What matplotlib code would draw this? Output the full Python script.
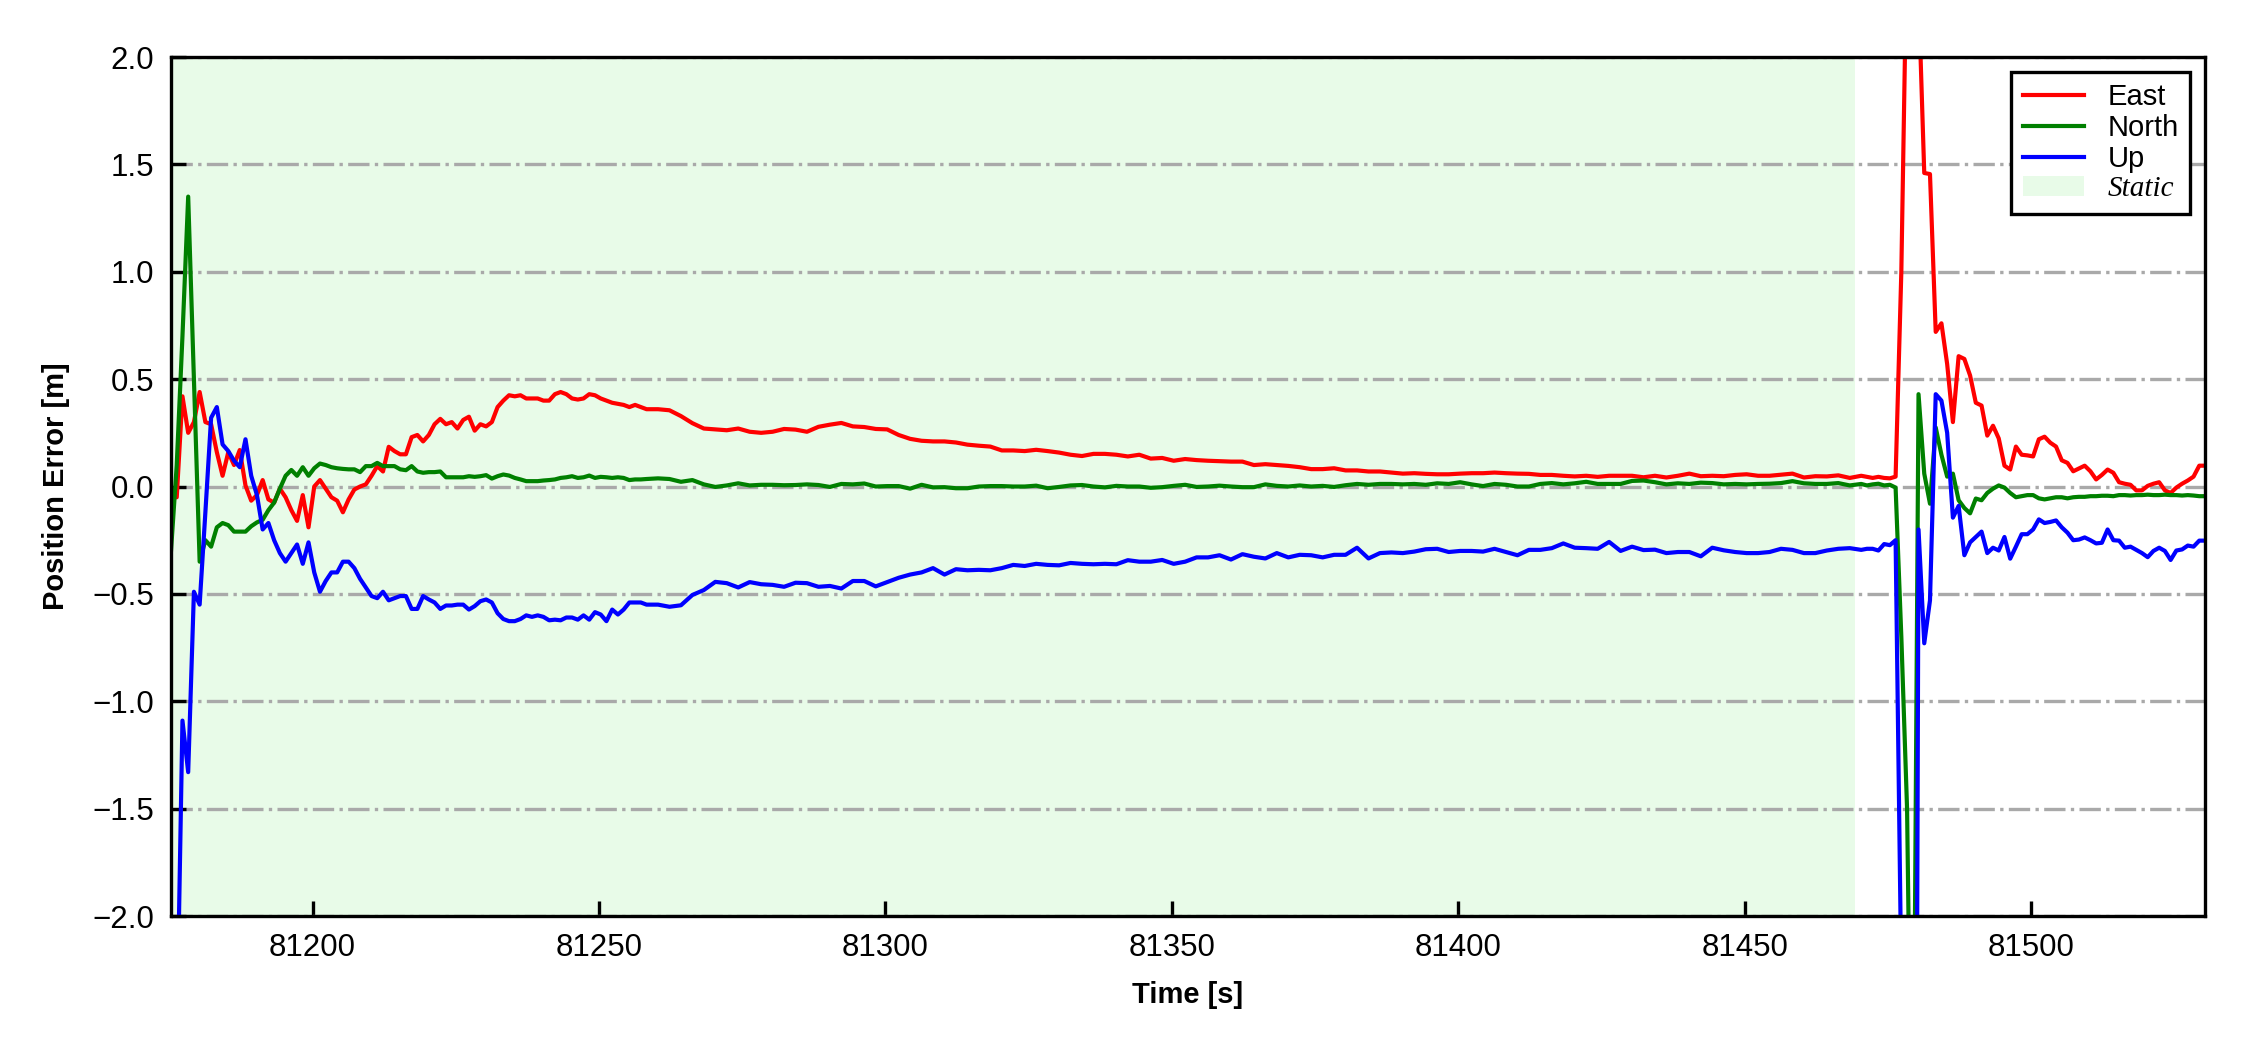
import numpy as np
import matplotlib
matplotlib.use('Agg')
import matplotlib.pyplot as plt
from matplotlib.patches import Patch

plt.rcParams['font.family'] = ['Liberation Sans', 'DejaVu Sans']

# time stamps [s]: 1 s samples at both ends, every 2nd sample in the quiet middle
t0 = 81175.3
t_static_end = 81469.2
idx = np.concatenate([np.arange(0, 84), np.arange(85, 296, 2), np.arange(296, 356)])
time = t0 + idx

# East error [m]
east_a = [-0.05, -0.05, 0.42, 0.25, 0.30, 0.44, 0.30, 0.29, 0.16, 0.05,
          0.16, 0.10, 0.17, 0.005, -0.066, -0.04, 0.03, -0.06, -0.075, -0.01,
          -0.05, -0.11, -0.16, -0.04, -0.19, 0.0, 0.03, -0.01, -0.05, -0.066,
          -0.12, -0.06, -0.014, 0.0, 0.01, 0.05, 0.095, 0.07, 0.185, 0.165,
          0.15, 0.15, 0.23, 0.24, 0.21, 0.24, 0.29, 0.315, 0.29, 0.30,
          0.27, 0.31, 0.325, 0.26, 0.29, 0.28, 0.30, 0.37, 0.40, 0.425,
          0.42, 0.425, 0.41, 0.41, 0.41, 0.40, 0.40, 0.43, 0.44, 0.43,
          0.41, 0.405, 0.41, 0.43, 0.425, 0.41, 0.40, 0.39, 0.385, 0.38,
          0.37, 0.38, 0.37, 0.36]
east_b = [0.36, 0.355, 0.328, 0.295, 0.27, 0.266, 0.262, 0.27, 0.255, 0.25,
          0.255, 0.268, 0.265, 0.255, 0.278, 0.288, 0.296, 0.28, 0.277, 0.268,
          0.266, 0.24, 0.222, 0.213, 0.21,
          0.21, 0.205, 0.195, 0.19, 0.186, 0.168, 0.168, 0.165, 0.171, 0.165,
          0.158, 0.148, 0.142, 0.152, 0.152, 0.148, 0.14, 0.148, 0.13, 0.133,
          0.12, 0.128, 0.123, 0.12, 0.118, 0.116, 0.116, 0.1, 0.104, 0.1,
          0.096, 0.09, 0.081, 0.081, 0.085, 0.075, 0.075, 0.07, 0.07, 0.065,
          0.06, 0.062, 0.059, 0.057, 0.057, 0.06, 0.062, 0.062, 0.065, 0.062,
          0.06, 0.059,
          0.054, 0.054, 0.05, 0.047, 0.05, 0.045, 0.05, 0.05, 0.05, 0.043,
          0.05, 0.042, 0.05, 0.06, 0.048, 0.05, 0.048, 0.054, 0.057, 0.05,
          0.05, 0.055, 0.06, 0.042, 0.048, 0.047, 0.052, 0.04, 0.05]
east_c = [0.045, 0.04, 0.045, 0.04, 0.038, 0.046, 1.0, 2.6, 2.7, 2.3,
          1.46, 1.455, 0.72, 0.76, 0.57, 0.30, 0.607, 0.594, 0.517, 0.39,
          0.377, 0.237, 0.283, 0.224, 0.097, 0.079, 0.186, 0.148, 0.145, 0.14,
          0.22, 0.232, 0.204, 0.186, 0.122, 0.11, 0.071, 0.084, 0.097, 0.071,
          0.033, 0.054, 0.079, 0.064, 0.02, 0.013, 0.008, -0.018, -0.018, 0.003,
          0.013, 0.02, -0.018, -0.03, -0.005, 0.013, 0.028, 0.046, 0.097, 0.097]

# North error [m]
north_a = [-0.30, 0.10, 0.70, 1.35, 0.50, -0.35, -0.25, -0.28, -0.19, -0.17,
           -0.18, -0.21, -0.21, -0.21, -0.185, -0.167, -0.155, -0.11, -0.075, -0.01,
           0.05, 0.077, 0.05, 0.09, 0.05, 0.085, 0.107, 0.10, 0.09, 0.085,
           0.082, 0.08, 0.08, 0.067, 0.095, 0.095, 0.11, 0.095, 0.095, 0.095,
           0.08, 0.076, 0.095, 0.07, 0.064, 0.067, 0.067, 0.07, 0.043, 0.043,
           0.043, 0.043, 0.048, 0.045, 0.048, 0.053, 0.037, 0.048, 0.056, 0.051,
           0.04, 0.033, 0.025, 0.025, 0.025, 0.028, 0.03, 0.033, 0.04, 0.043,
           0.048, 0.04, 0.043, 0.051, 0.04, 0.045, 0.043, 0.04, 0.043, 0.04,
           0.03, 0.033, 0.033, 0.035]
north_b = [0.038, 0.035, 0.022, 0.03, 0.01, -0.002, 0.005, 0.015, 0.005, 0.008,
           0.008, 0.006, 0.007, 0.01, 0.007, -0.002, 0.012, 0.01, 0.014, 0.0,
           0.002, 0.002, -0.01, 0.008, -0.004,
           -0.003, -0.008, -0.008, 0.0, 0.002, 0.002, 0.0, 0.0, 0.004, -0.008,
           -0.002, 0.005, 0.007, 0.0, -0.004, 0.003, 0.0, 0.0, -0.006, -0.003,
           0.003, 0.008, -0.002, 0.0, 0.004, 0.0, -0.003, -0.003, 0.01, 0.003,
           0.0, 0.005, 0.0, 0.003, -0.002, 0.006, 0.012, 0.008, 0.012, 0.012,
           0.01, 0.012, 0.008, 0.015, 0.012, 0.02, 0.01, 0.002, 0.012, 0.008,
           0.0, 0.0,
           0.012, 0.016, 0.01, 0.015, 0.022, 0.012, 0.012, 0.012, 0.026, 0.028,
           0.02, 0.01, 0.015, 0.012, 0.018, 0.016, 0.01, 0.012, 0.01, 0.012,
           0.013, 0.016, 0.025, 0.015, 0.012, 0.012, 0.016, 0.005, 0.012]
north_c = [0.005, 0.01, 0.013, 0.005, 0.008, -0.005, -0.7, -1.5, -3.5, 0.43,
           0.06, -0.08, 0.275, 0.148, 0.046, 0.06, -0.064, -0.1, -0.125, -0.056,
           -0.064, -0.03, -0.01, 0.005, -0.005, -0.03, -0.05, -0.045, -0.04, -0.04,
           -0.055, -0.06, -0.055, -0.05, -0.05, -0.055, -0.05, -0.048, -0.048, -0.045,
           -0.045, -0.043, -0.043, -0.045, -0.04, -0.04, -0.042, -0.04, -0.04, -0.038,
           -0.04, -0.04, -0.038, -0.04, -0.04, -0.042, -0.04, -0.042, -0.045, -0.045]

# Up error [m]
up_a = [-3.0, -2.6, -1.09, -1.33, -0.49, -0.55, -0.12, 0.32, 0.37, 0.196,
        0.165, 0.12, 0.09, 0.22, 0.05, -0.04, -0.2, -0.17, -0.25, -0.31,
        -0.35, -0.31, -0.27, -0.36, -0.26, -0.40, -0.49, -0.44, -0.40, -0.40,
        -0.35, -0.35, -0.38, -0.43, -0.47, -0.51, -0.52, -0.49, -0.53, -0.52,
        -0.51, -0.51, -0.57, -0.57, -0.51, -0.526, -0.54, -0.57, -0.554, -0.554,
        -0.55, -0.55, -0.573, -0.557, -0.534, -0.526, -0.54, -0.59, -0.617, -0.627,
        -0.627, -0.617, -0.60, -0.607, -0.60, -0.607, -0.623, -0.62, -0.623, -0.61,
        -0.61, -0.62, -0.60, -0.62, -0.585, -0.596, -0.627, -0.573, -0.596, -0.573,
        -0.54, -0.54, -0.54, -0.55]
up_b = [-0.55, -0.56, -0.553, -0.505, -0.482, -0.444, -0.45, -0.47, -0.445, -0.455,
        -0.458, -0.467, -0.448, -0.45, -0.467, -0.463, -0.475, -0.44, -0.44, -0.465,
        -0.445, -0.425, -0.41, -0.40, -0.38,
        -0.41, -0.385, -0.39, -0.388, -0.39, -0.38, -0.365, -0.37, -0.36, -0.365,
        -0.367, -0.356, -0.36, -0.362, -0.36, -0.362, -0.343, -0.35, -0.35, -0.342,
        -0.36, -0.35, -0.33, -0.33, -0.32, -0.34, -0.315, -0.327, -0.335, -0.31,
        -0.33, -0.318, -0.32, -0.33, -0.318, -0.318, -0.285, -0.335, -0.31, -0.307,
        -0.31, -0.303, -0.292, -0.29, -0.305, -0.3, -0.3, -0.303, -0.29, -0.305,
        -0.32, -0.295,
        -0.295, -0.287, -0.265, -0.285, -0.287, -0.29, -0.258, -0.3, -0.28, -0.296,
        -0.294, -0.31, -0.305, -0.305, -0.325, -0.285, -0.297, -0.305, -0.31, -0.31,
        -0.305, -0.29, -0.295, -0.31, -0.31, -0.298, -0.29, -0.287, -0.295]
up_c = [-0.29, -0.29, -0.298, -0.268, -0.273, -0.25, -2.3, -6.0, -8.0, -0.2,
        -0.73, -0.53, 0.43, 0.40, 0.25, -0.145, -0.09, -0.32, -0.26, -0.235,
        -0.21, -0.31, -0.285, -0.298, -0.235, -0.336, -0.28, -0.222, -0.222, -0.2,
        -0.153, -0.17, -0.165, -0.158, -0.19, -0.215, -0.25, -0.247, -0.237, -0.25,
        -0.265, -0.262, -0.2, -0.25, -0.252, -0.285, -0.28, -0.295, -0.31, -0.329,
        -0.3, -0.285, -0.3, -0.342, -0.298, -0.293, -0.275, -0.28, -0.252, -0.252]

east = np.array(east_a + east_b + east_c)
north = np.array(north_a + north_b + north_c)
up = np.array(up_a + up_b + up_c)


fig, ax = plt.subplots(figsize=(7.5, 3.5), dpi=300)
fig.subplots_adjust(left=0.076, right=0.98, top=0.9457, bottom=0.1276)

ax.axvspan(time[0], t_static_end, color='lightgreen', alpha=0.2, lw=0, zorder=0)
l1, = ax.plot(time, east, color='red', lw=1.0)
l2, = ax.plot(time, north, color='green', lw=1.0)
l3, = ax.plot(time, up, color='blue', lw=1.0)

ax.set_xlim(time[0], time[-1])
ax.set_ylim(-2, 2)
ax.yaxis.grid(True, linestyle='-.', color='darkgray', lw=0.8)

ax.tick_params(direction='in', length=3.5, width=0.8, labelsize=7.5, pad=4)
for sp in ax.spines.values():
    sp.set_linewidth(0.8)

ax.set_xlabel('Time [s]', fontsize=7, fontweight='bold', labelpad=4.5)
ax.set_ylabel('Position Error [m]', fontsize=7, fontweight='bold', labelpad=5.5)

static_patch = Patch(facecolor='lightgreen', alpha=0.2, edgecolor='none')
leg = ax.legend([l1, l2, l3, static_patch], ['East', 'North', 'Up', 'Static'],
                loc='upper right', fontsize=7, fancybox=False, edgecolor='black',
                framealpha=1, handlelength=2.1, labelspacing=0.1,
                handletextpad=0.8, borderpad=0.4)
leg.get_frame().set_linewidth(0.8)
leg.get_texts()[3].set_fontfamily('Liberation Serif')
leg.get_texts()[3].set_fontstyle('italic')

fig.savefig('out.png', dpi=300)
